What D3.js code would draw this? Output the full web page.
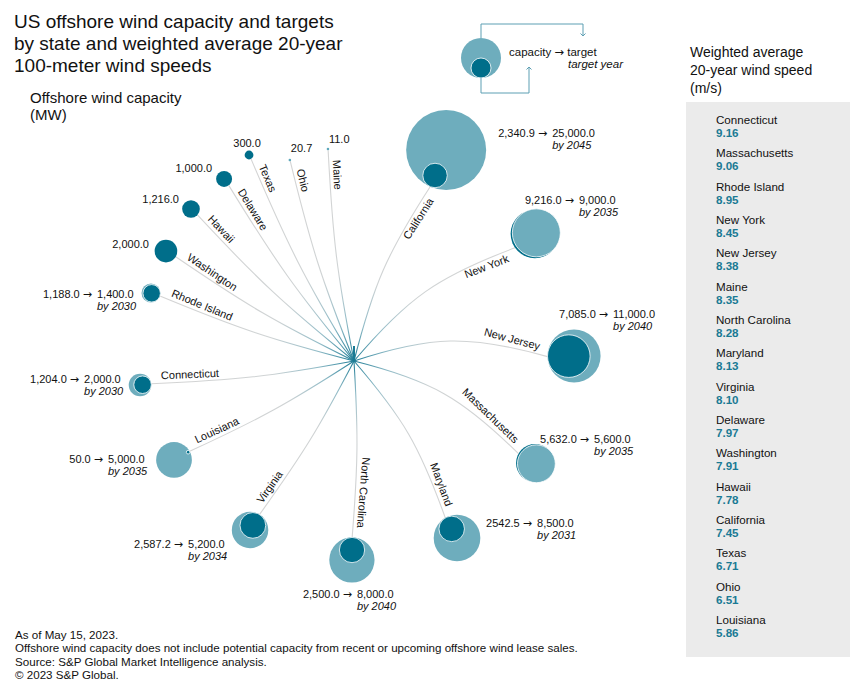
<!DOCTYPE html>
<html>
<head>
  <meta charset="utf-8">
  <script src="https://d3js.org/d3.v7.min.js"></script>
  <style>
    body { margin: 0; background: #fff; }
    text { font-family: "Liberation Sans", Arial, sans-serif; fill: #111; }
    .arr { font-family: "DejaVu Sans", sans-serif; }
  </style>
</head>
<body>
  <div id="chart"></div>

  <script>
    // states in clockwise order round the hub, starting at the top
    var states = ["Maine", "California", "New York", "New Jersey", "Massachusetts", "Maryland",
                  "North Carolina", "Virginia", "Louisiana", "Connecticut", "Rhode Island",
                  "Washington", "Hawaii", "Delaware", "Texas", "Ohio"];
    var capacity = [11.0, 2340.9, 9216.0, 7085.0, 5632.0, 2542.5, 2500.0, 2587.2, 50.0,
                    1204.0, 1188.0, 2000.0, 1216.0, 1000.0, 300.0, 20.7];
    var capacityLabel = ["11.0", "2,340.9", "9,216.0", "7,085.0", "5,632.0", "2542.5", "2,500.0",
                         "2,587.2", "50.0", "1,204.0", "1,188.0", "2,000.0", "1,216.0", "1,000.0",
                         "300.0", "20.7"];
    var target = [null, 25000, 9000, 11000, 5600, 8500, 8000, 5200, 5000, 2000, 1400,
                  null, null, null, null, null];
    var targetYear = [null, 2045, 2035, 2040, 2035, 2031, 2040, 2034, 2035, 2030, 2030,
                      null, null, null, null, null];

    // right-hand panel, sorted by wind speed
    var windStates = ["Connecticut", "Massachusetts", "Rhode Island", "New York", "New Jersey",
                      "Maine", "North Carolina", "Maryland", "Virginia", "Delaware", "Washington",
                      "Hawaii", "California", "Texas", "Ohio", "Louisiana"];
    var windSpeed = [9.16, 9.06, 8.95, 8.45, 8.38, 8.35, 8.28, 8.13, 8.10, 7.97, 7.91,
                     7.78, 7.45, 6.71, 6.51, 5.86];

    // layout of the bubbles: angle (deg, clockwise from up) and distance from the hub
    var bubbleAngle = [-7, 23.6, 54.9, 88.7, 119.4, 149.8, 180.6, 211.6, 241.2, 263.6, 288.5,
                       300.3, 313, 324.5, 333, 342.3];
    var bubbleDist = [213.6, 230.2, 221.1, 220.1, 207.8, 204.8, 199, 198.4, 205.4, 215.3, 214.1,
                      217.8, 222.9, 223.7, 231.2, 211];
    // value label placement relative to bubble centre: [anchor, dx, dy]
    var valuePos = [["start", 1, -6], ["start", 106, -13], ["start", 44, -30], ["start", 39, -38],
                    ["start", 59, -20], ["start", 80, -11], ["start", 5, 38], ["start", -62, 18],
                    ["start", -66, 3], ["start", -56, -2], ["start", -54, 5],
                    ["end", -17, -3], ["end", -12, -6], ["end", -12, -7], ["middle", -2, -8],
                    ["start", 1, -8]];
    // which side of its link a state name sits on (1 = above, -1 = below)
    var nameSide = [1, -1, -1, 1, 1, 1, 1, 1, 1, 1, 1, 1, 1, 1, 1, 1];

    var W = 850, H = 690;
    var hub = [354, 361];
    var dark = "#006e8a", light = "#6eadbd", teal = "#1a7a94";

    var svg = d3.select("#chart").append("svg")
      .attr("width", W)
      .attr("height", H);
    var defs = svg.append("defs");

    var r = d3.scaleSqrt().domain([0, 25000]).range([0, 40]);

    function unit(a) {
      var t = a * Math.PI / 180;
      return [Math.sin(t), -Math.cos(t)];
    }

    var data = states.map(function(s, i) {
      var u = unit(bubbleAngle[i]);
      var c = [hub[0] + bubbleDist[i] * u[0], hub[1] + bubbleDist[i] * u[1]];
      var big = Math.max(capacity[i], target[i] || 0);
      var R = Math.max(r(big), 1.3);
      return {
        name: s, i: i, angle: bubbleAngle[i], u: u, c: c, R: R,
        end: [c[0] - R * u[0], c[1] - R * u[1]], len: bubbleDist[i] - R
      };
    });

    // ---- title & notes
    var title = ["US offshore wind capacity and targets",
                 "by state and weighted average 20-year",
                 "100-meter wind speeds"];
    svg.append("g").selectAll("text").data(title).enter().append("text")
      .attr("x", 14).attr("y", function(d, i) { return 28 + i * 22; })
      .style("font-size", "19px")
      .text(function(d) { return d; });

    svg.append("text").attr("x", 30).attr("y", 103).style("font-size", "15px")
      .text("Offshore wind capacity");
    svg.append("text").attr("x", 30).attr("y", 120).style("font-size", "15px")
      .text("(MW)");

    var notes = ["As of May 15, 2023.",
                 "Offshore wind capacity does not include potential capacity from recent or upcoming offshore wind lease sales.",
                 "Source: S&P Global Market Intelligence analysis.",
                 "\u00a9 2023 S&P Global."];
    svg.append("g").selectAll("text").data(notes).enter().append("text")
      .attr("x", 15).attr("y", function(d, i) { return 639 + i * 13.3; })
      .style("font-size", "11.6px")
      .text(function(d) { return d; });

    // ---- links from the hub
    var links = svg.append("g");
    data.forEach(function(d) {
      var b = 4 + 13 * Math.max(0, Math.sin(d.angle * Math.PI / 180));
      var u1 = unit(d.angle - b), u2 = unit(d.angle + b);
      var k = 0.42 * d.len;
      var p = d3.path();
      p.moveTo(hub[0], hub[1]);
      p.bezierCurveTo(hub[0] + k * u1[0], hub[1] + k * u1[1],
                      d.end[0] - k * u2[0], d.end[1] - k * u2[1],
                      d.end[0], d.end[1]);
      var gid = "g" + d.i;
      var g = defs.append("linearGradient").attr("id", gid)
        .attr("gradientUnits", "userSpaceOnUse")
        .attr("x1", hub[0]).attr("y1", hub[1]).attr("x2", d.end[0]).attr("y2", d.end[1]);
      g.append("stop").attr("offset", 0).attr("stop-color", teal);
      g.append("stop").attr("offset", 0.18).attr("stop-color", "#8fbac6");
      g.append("stop").attr("offset", 0.42).attr("stop-color", "#cfd3d4");
      g.append("stop").attr("offset", 1).attr("stop-color", "#d4d4d4");
      d.path = links.append("path")
        .attr("d", p.toString())
        .attr("fill", "none")
        .attr("stroke", "url(#" + gid + ")")
        .attr("stroke-width", 1.1)
        .node();
    });
    links.append("line")
      .attr("x1", hub[0]).attr("y1", hub[1]).attr("x2", hub[0]).attr("y2", hub[1] - 15)
      .attr("stroke", teal).attr("stroke-width", 2);

    // ---- state labels along links
    var labels = svg.append("g");
    data.forEach(function(d) {
      var L = d.path.getTotalLength();
      var at = L - 10;
      var p = d.path.getPointAtLength(at);
      var p0 = d.path.getPointAtLength(at - 3), p1 = d.path.getPointAtLength(at + 3);
      var rot = Math.atan2(p1.y - p0.y, p1.x - p0.x) * 180 / Math.PI;
      var anchor = "end";
      if (rot > 96 || rot < -90) { rot += 180; anchor = "start"; }
      labels.append("text")
        .attr("transform", "translate(" + p.x + "," + p.y + ") rotate(" + rot + ")")
        .attr("dy", nameSide[d.i] > 0 ? -4 : 11)
        .attr("text-anchor", anchor)
        .style("font-size", "11px")
        .text(d.name);
    });

    // ---- bubbles
    var bubbles = svg.append("g");
    data.forEach(function(d) {
      var i = d.i;
      if (target[i] == null) {
        bubbles.append("circle")
          .attr("cx", d.c[0]).attr("cy", d.c[1]).attr("r", d.R)
          .attr("fill", d.R < 2 ? "#5ea8bb" : dark);
        return;
      }
      var capBig = capacity[i] > target[i];
      var rs = r(Math.min(capacity[i], target[i]));
      var off = capBig ? -(d.R - rs + 1.5) : (d.R - rs);
      bubbles.append("circle")
        .attr("cx", d.c[0]).attr("cy", d.c[1]).attr("r", d.R)
        .attr("fill", capBig ? dark : light);
      bubbles.append("circle")
        .attr("cx", d.c[0] - off * d.u[0]).attr("cy", d.c[1] - off * d.u[1]).attr("r", rs)
        .attr("fill", capBig ? light : dark)
        .attr("stroke", "#fff").attr("stroke-width", 0.8);
    });

    // ---- value labels
    var vals = svg.append("g").style("font-size", "11px");
    data.forEach(function(d) {
      var i = d.i, pos = valuePos[i];
      var x = d.c[0] + pos[1], y = d.c[1] + pos[2];
      if (target[i] == null) {
        vals.append("text").attr("x", x).attr("y", y).attr("text-anchor", pos[0])
          .text(capacityLabel[i]);
        return;
      }
      var t = vals.append("text").attr("x", x - 5).attr("y", y).attr("text-anchor", "end");
      t.append("tspan").text(capacityLabel[i] + " ");
      t.append("tspan").attr("class", "arr").text("\u2192");
      vals.append("text").attr("x", x).attr("y", y)
        .text(d3.format(",.1f")(target[i]));
      vals.append("text").attr("x", x).attr("y", y + 12)
        .style("font-style", "italic")
        .text("by " + targetYear[i]);
    });

    // ---- key
    var key = svg.append("g");
    key.append("circle").attr("cx", 481).attr("cy", 58).attr("r", 20).attr("fill", light);
    key.append("circle").attr("cx", 481).attr("cy", 68).attr("r", 10).attr("fill", dark)
      .attr("stroke", "#fff").attr("stroke-width", 0.8);
    key.append("path").attr("d", "M481,38V24H583V36M580.5,33.5L583,36L585.5,33.5")
      .attr("fill", "none").attr("stroke", "#5d9fb3");
    key.append("path").attr("d", "M481,78V93H529V67M526.5,69.5L529,67L531.5,69.5")
      .attr("fill", "none").attr("stroke", "#5d9fb3");
    var kt = key.append("text").attr("x", 509).attr("y", 56).style("font-size", "11.5px");
    kt.append("tspan").text("capacity ");
    kt.append("tspan").attr("class", "arr").text("\u2192");
    kt.append("tspan").text(" target");
    key.append("text").attr("x", 568).attr("y", 68).style("font-size", "11.5px")
      .style("font-style", "italic").text("target year");

    // ---- wind speed panel
    svg.append("text").attr("x", 690).attr("y", 57).style("font-size", "14px").text("Weighted average");
    svg.append("text").attr("x", 690).attr("y", 75).style("font-size", "14px").text("20-year wind speed");
    svg.append("text").attr("x", 690).attr("y", 93).style("font-size", "14px").text("(m/s)");
    svg.append("rect").attr("x", 686).attr("y", 102).attr("width", 164).attr("height", 555)
      .attr("fill", "#ebebeb");

    var rowY = d3.scaleLinear().domain([0, windStates.length - 1]).range([124, 624]);
    var rows = svg.append("g").selectAll("g").data(windStates).enter().append("g")
      .attr("transform", function(d, i) { return "translate(716," + rowY(i) + ")"; });
    rows.append("text").style("font-size", "11.6px").text(function(d) { return d; });
    rows.append("text").attr("y", 13).style("font-size", "11.6px").style("font-weight", "bold")
      .style("fill", teal)
      .text(function(d, i) { return d3.format(".2f")(windSpeed[i]); });
  </script>
</body>
</html>
